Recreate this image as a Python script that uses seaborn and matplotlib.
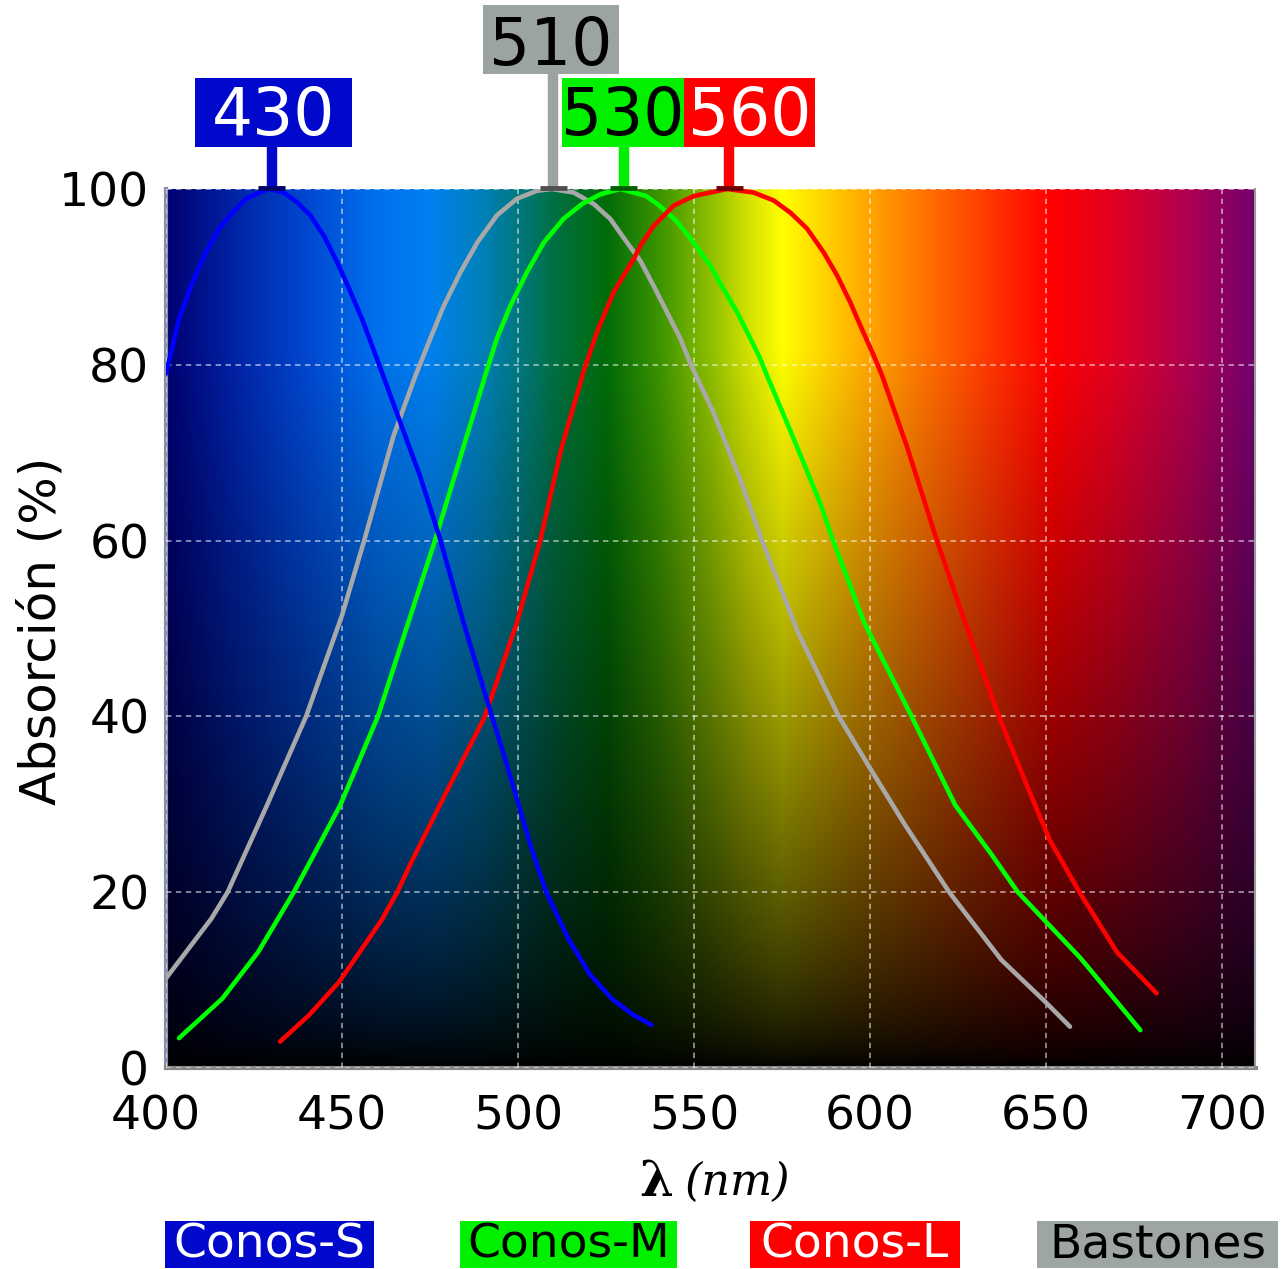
import numpy as np
import pandas as pd
import matplotlib
matplotlib.use("Agg")
import matplotlib.pyplot as plt
import matplotlib.transforms as mtransforms
from matplotlib.patches import Rectangle
import seaborn as sns

# ---------------- data ----------------
s_wl = [400, 403.7, 407.5, 411.3, 415.1, 418.9, 422.7, 426.5, 429.3, 433.4, 437.2, 441.0, 444.8,
        448.6, 452.4, 456.1, 459.9, 466.6, 472.3, 478.0, 484.5, 491.6, 495.7, 499.7, 503.8, 508,
        514.3, 520.5, 526.6, 532.5, 537.9]
s_abs = [79.0, 85.2, 89.4, 92.8, 95.5, 97.3, 98.9, 99.6, 100, 99.6, 98.5, 97.0, 94.7,
         91.7, 88.3, 84.8, 80.7, 73.4, 67.2, 60, 50.7, 41.3, 36.0, 30.6, 25.0, 20,
         14.7, 10.6, 7.9, 6.1, 4.9]

rod_wl = [400, 412.9, 417.5, 428.7, 439.8, 450, 456.3, 464.7, 470.9, 475.1, 478.9, 483.6, 488.4,
          494.0, 499.7, 505.4, 509.6, 515.8, 521.5, 526.2, 531.0, 534.8, 538.5, 542.3, 546.1,
          548.9, 555.5, 563.1, 569.3, 579.7, 591.1, 599.4, 609.7, 622.5, 637.3, 649.6, 656.8]
rod_abs = [10.2, 17.0, 20, 29.9, 40, 51.5, 60, 72, 78.8, 83.0, 86.7, 90.5, 93.9,
           97.0, 98.9, 99.8, 100, 99.6, 98.3, 96.6, 93.9, 91.8, 89.0, 86.0, 83.0,
           80.2, 74.6, 67.0, 60, 49.4, 40, 34.5, 27.8, 20, 12.3, 7.6, 4.7]

m_wl = [403.7, 416.0, 426.2, 436.3, 449.5, 460.2, 467.3, 476.4, 483.7, 490.7, 494.0, 497.8, 502.5,
        507.3, 512.9, 518.2, 523.4, 529.1, 536.4, 540.2, 544.9, 549.9, 554.6, 558.4, 562.2, 566.0,
        568.8, 570.7, 578.2, 585.8, 589.5, 598.3, 611.8, 624.2, 634.5, 642, 659.8, 676.8]
m_abs = [3.4, 7.9, 13.2, 20, 29.9, 40, 48.8, 60, 69.6, 78.8, 83.0, 86.7, 90.5,
         93.9, 96.6, 98.3, 99.4, 100, 99.2, 98.1, 96.4, 93.9, 91.3, 88.6, 86.0, 83.0,
         80.7, 78.8, 71.7, 64.3, 60, 50.7, 40, 29.9, 24.3, 20, 12.5, 4.3]

l_wl = [432.4, 440.6, 449.2, 461.2, 465.7, 469.3, 479.4, 490.6, 499.7, 506.3, 512.2, 518.6, 522.4,
        527.2, 532.8, 535.0, 538.5, 544.2, 549.9, 559.4, 566.9, 572.6, 577.4, 582.1, 586.8, 590.6,
        594.4, 597.2, 601.0, 603.4, 610.4, 615.2, 619.0, 626.3, 636.6, 644.9, 651.1, 659.5, 670.1,
        681.4]
l_abs = [3.0, 6.0, 9.8, 16.8, 20, 23.1, 31.2, 40, 50.7, 60, 70.3, 79.2, 83.7,
         88.3, 92.0, 93.7, 95.8, 98.1, 99.2, 100, 99.6, 98.7, 97.3, 95.5, 92.8, 90.2,
         87.1, 84.5, 81.1, 78.8, 70.8, 64.8, 60, 51.5, 40, 31.8, 25.9, 20, 13.2,
         8.5]

peak_values = [430, 510, 530, 560]
peak_labels = ["430", "510", "530", "560"]
legend_labels = ["Conos-S", "Conos-M", "Conos-L", "Bastones"]
x_ticks = [400, 450, 500, 550, 600, 650, 700]
y_ticks = [0, 20, 40, 60, 80, 100]

# ---------------- figure ----------------
sns.set_theme(style="white")
plt.rcParams['font.family'] = ['DejaVu Sans']

W, H = 1283, 1269
fig = plt.figure(figsize=(W / 100, H / 100), dpi=100)
fig.patch.set_facecolor("white")

def fx(px):
    return px / W

def fy(py):
    return 1 - py / H

ax_left, ax_right, ax_top, ax_bot = 166, 1255.5, 189, 1068
ax = fig.add_axes([fx(ax_left), fy(ax_bot), fx(ax_right - ax_left), (ax_bot - ax_top) / H])
ax.set_xlim(400, 709.5)
ax.set_ylim(0, 100)

# spectral background
stops = [(400, "#000070"), (420, "#0024a8"), (440, "#0048d0"), (460, "#0070ec"), (475, "#0080f0"),
         (490, "#0080b8"), (500, "#007880"), (510, "#007044"), (525, "#006c08"), (540, "#3c9400"),
         (555, "#90c000"), (565, "#d0e000"), (575, "#ffff00"), (590, "#ffc800"), (600, "#ffa400"),
         (620, "#ff6400"), (640, "#ff2400"), (652, "#ff0000"), (670, "#e00024"), (690, "#b00050"),
         (710, "#700070")]
sw = np.array([s[0] for s in stops], dtype=float)
sc = np.array([matplotlib.colors.to_rgb(s[1]) for s in stops])
xs = np.linspace(400, 709.5, 700)
row = np.stack([np.interp(xs, sw, sc[:, k]) for k in range(3)], axis=1)
ys = np.linspace(0, 100, 300)
fade = np.clip(1.15 * (ys / 100) ** 0.7, 0, 1)
img = fade[:, None, None] * row[None, :, :]
ax.imshow(img, extent=[400, 709.5, 0, 100], origin="lower", aspect="auto",
          interpolation="bilinear", zorder=0)

# grid
ax.grid(True, color="white", alpha=0.55, linestyle=(0, (3, 2.5)), linewidth=1.3, zorder=1)
ax.set_axisbelow(False)

# curves
curves = [(rod_wl, rod_abs, "#a8a8a8"), (m_wl, m_abs, "#00ff00"),
          (l_wl, l_abs, "#ff0000"), (s_wl, s_abs, "#0000ff")]
for wl, ab, col in curves:
    df = pd.DataFrame({"wl": wl, "abs": ab})
    sns.lineplot(data=df, x="wl", y="abs", ax=ax, color=col, linewidth=3.3,
                 estimator=None, sort=False, zorder=3)

ax.set_xlabel("")
ax.set_ylabel("")
ax.set_xticks(x_ticks)
ax.set_yticks(y_ticks)
ax.set_xticklabels([str(t) for t in x_ticks])
ax.set_yticklabels([str(t) for t in y_ticks])
ax.tick_params(axis="both", direction="out", length=11, width=1.5, color="#444444",
               labelsize=34, labelcolor="black")
ax.tick_params(axis="y", pad=1)
ax.tick_params(axis="x", pad=8)
# first x label sits a little to the left, as in the reference
first = ax.get_xticklabels()[0]
first.set_transform(first.get_transform() + mtransforms.ScaledTranslation(-10 / 100, 0, fig.dpi_scale_trans))

ax.spines["top"].set_visible(False)
ax.spines["left"].set_color("#8890a8")
ax.spines["left"].set_linewidth(3)
ax.spines["bottom"].set_color("#888888")
ax.spines["bottom"].set_linewidth(3)
ax.spines["right"].set_color("#999999")
ax.spines["right"].set_linewidth(1.5)

# axis labels
fig.text(fx(42), fy(631), "Absorción (%)", rotation=90, ha="center", va="center",
         fontsize=36, color="black")
fig.text(fx(656), fy(1182), "λ", ha="center", va="center", fontsize=35,
         family="DejaVu Serif", fontweight="bold", color="black")
fig.text(fx(738), fy(1182), "(nm)", ha="center", va="center", fontsize=32,
         family="DejaVu Serif", fontstyle="italic", color="black")

# peak markers & labels
blend = mtransforms.blended_transform_factory(ax.transData, fig.transFigure)
peak_box_color = ["#0008cc", "#9ca3a3", "#00f000", "#ff0000"]
peak_txt_color = ["white", "black", "black", "white"]
peak_boxes = [(195, 352, 78, 147), (483, 619, 5, 74), (562, 684, 78, 147), (684, 815, 78, 147)]
peak_baseline = [135, 65, 135, 135]
peak_dark = ["#00006a", "#505050", "#006000", "#700000"]
for val, lab, bc, tc, (x0, x1, y0, y1), bl, dk in zip(peak_values, peak_labels, peak_box_color,
                                                      peak_txt_color, peak_boxes, peak_baseline,
                                                      peak_dark):
    ax.plot([val, val], [fy(y1), fy(ax_top + 2)], transform=blend, color=bc, linewidth=7.5,
            solid_capstyle="butt", clip_on=False, zorder=5)
    ax.plot([val - 3.8, val + 3.8], [fy(ax_top - 1), fy(ax_top - 1)], transform=blend, color=dk,
            linewidth=3.5, solid_capstyle="butt", clip_on=False, zorder=5)
    fig.patches.append(Rectangle((fx(x0), fy(y1)), fx(x1 - x0), (y1 - y0) / H,
                                 transform=fig.transFigure, facecolor=bc, edgecolor="none"))
    fig.text(fx((x0 + x1) / 2), fy(bl), lab, ha="center", va="baseline", fontsize=46.5, color=tc)

# legend boxes
leg_boxes = [(165, 374), (460, 677), (750, 960), (1037, 1278)]
leg_col = ["#0008cc", "#00f000", "#ff0000", "#9ea5a5"]
leg_txt = ["white", "black", "white", "black"]
for lab, (x0, x1), bc, tc in zip(legend_labels, leg_boxes, leg_col, leg_txt):
    fig.patches.append(Rectangle((fx(x0), fy(1268)), fx(x1 - x0), 47 / H,
                                 transform=fig.transFigure, facecolor=bc, edgecolor="none"))
    fig.text(fx((x0 + x1) / 2), fy(1258), lab, ha="center", va="baseline", fontsize=34, color=tc)

fig.savefig("out.png", dpi=100, facecolor="white")
